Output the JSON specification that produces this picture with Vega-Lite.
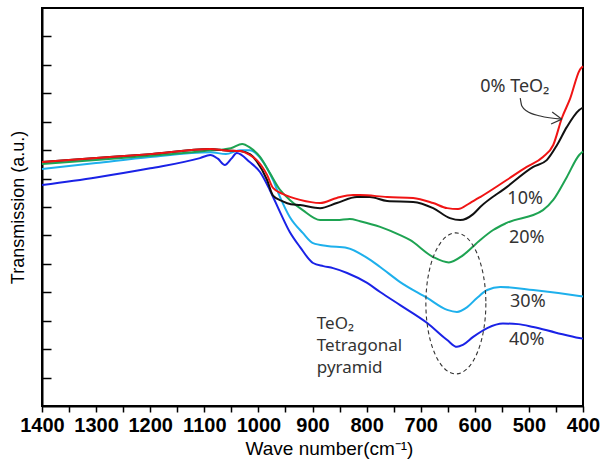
{
  "$schema": "https://vega.github.io/schema/vega-lite/v6.json",
  "width": 541,
  "height": 398,
  "autosize": "none",
  "padding": {"left": 42, "top": 8, "right": 17, "bottom": 62},
  "background": "white",
  "config": {
    "view": {"stroke": "#000", "strokeWidth": 2},
    "axis": {"grid": false, "domainColor": "#000", "domainWidth": 2, "tickColor": "#000"}
  },
  "datasets": {
    "spectra": [
      {"s": "40%", "w": 1400, "y": 7.77}, {"s": "40%", "w": 1300, "y": 8.04}, {"s": "40%", "w": 1200, "y": 8.36},
      {"s": "40%", "w": 1108, "y": 8.72}, {"s": "40%", "w": 1089, "y": 8.83},
      {"s": "40%", "w": 1075, "y": 8.70}, {"s": "40%", "w": 1062, "y": 8.48}, {"s": "40%", "w": 1050, "y": 8.70},
      {"s": "40%", "w": 1040, "y": 8.90}, {"s": "40%", "w": 1016, "y": 8.58}, {"s": "40%", "w": 997, "y": 8.23},
      {"s": "40%", "w": 979, "y": 7.60}, {"s": "40%", "w": 960, "y": 6.82}, {"s": "40%", "w": 942, "y": 6.12},
      {"s": "40%", "w": 923, "y": 5.59}, {"s": "40%", "w": 899, "y": 5.03}, {"s": "40%", "w": 880, "y": 4.92},
      {"s": "40%", "w": 862, "y": 4.85}, {"s": "40%", "w": 836, "y": 4.68}, {"s": "40%", "w": 799, "y": 4.33},
      {"s": "40%", "w": 775, "y": 4.01}, {"s": "40%", "w": 738, "y": 3.55}, {"s": "40%", "w": 688, "y": 2.92},
      {"s": "40%", "w": 651, "y": 2.32}, {"s": "40%", "w": 633, "y": 2.08}, {"s": "40%", "w": 622, "y": 2.15},
      {"s": "40%", "w": 603, "y": 2.43}, {"s": "40%", "w": 577, "y": 2.74}, {"s": "40%", "w": 548, "y": 2.90},
      {"s": "40%", "w": 520, "y": 2.88}, {"s": "40%", "w": 492, "y": 2.78}, {"s": "40%", "w": 450, "y": 2.58},
      {"s": "40%", "w": 407, "y": 2.39}, {"s": "40%", "w": 400, "y": 2.37},

      {"s": "30%", "w": 1400, "y": 8.34}, {"s": "30%", "w": 1300, "y": 8.55}, {"s": "30%", "w": 1200, "y": 8.76},
      {"s": "30%", "w": 1089, "y": 8.93}, {"s": "30%", "w": 1060, "y": 8.86}, {"s": "30%", "w": 1034, "y": 9.0},
      {"s": "30%", "w": 1016, "y": 9.0}, {"s": "30%", "w": 991, "y": 8.58}, {"s": "30%", "w": 973, "y": 7.95},
      {"s": "30%", "w": 960, "y": 7.35}, {"s": "30%", "w": 942, "y": 6.65}, {"s": "30%", "w": 918, "y": 6.09},
      {"s": "30%", "w": 899, "y": 5.73}, {"s": "30%", "w": 873, "y": 5.63}, {"s": "30%", "w": 836, "y": 5.56},
      {"s": "30%", "w": 799, "y": 5.21}, {"s": "30%", "w": 775, "y": 4.89}, {"s": "30%", "w": 738, "y": 4.36},
      {"s": "30%", "w": 688, "y": 3.80}, {"s": "30%", "w": 651, "y": 3.38}, {"s": "30%", "w": 633, "y": 3.31},
      {"s": "30%", "w": 614, "y": 3.48}, {"s": "30%", "w": 596, "y": 3.80}, {"s": "30%", "w": 577, "y": 4.08},
      {"s": "30%", "w": 553, "y": 4.19}, {"s": "30%", "w": 492, "y": 4.08}, {"s": "30%", "w": 407, "y": 3.87},
      {"s": "30%", "w": 400, "y": 3.85},

      {"s": "20%", "w": 1400, "y": 8.51}, {"s": "20%", "w": 1300, "y": 8.65}, {"s": "20%", "w": 1200, "y": 8.80},
      {"s": "20%", "w": 1100, "y": 8.97}, {"s": "20%", "w": 1051, "y": 9.07}, {"s": "20%", "w": 1030, "y": 9.22},
      {"s": "20%", "w": 1016, "y": 9.10}, {"s": "20%", "w": 997, "y": 8.76}, {"s": "20%", "w": 979, "y": 8.20},
      {"s": "20%", "w": 960, "y": 7.60}, {"s": "20%", "w": 942, "y": 7.25}, {"s": "20%", "w": 918, "y": 6.89},
      {"s": "20%", "w": 886, "y": 6.54}, {"s": "20%", "w": 855, "y": 6.54}, {"s": "20%", "w": 831, "y": 6.58},
      {"s": "20%", "w": 812, "y": 6.50}, {"s": "20%", "w": 775, "y": 6.30}, {"s": "20%", "w": 738, "y": 6.01},
      {"s": "20%", "w": 720, "y": 5.84}, {"s": "20%", "w": 677, "y": 5.24}, {"s": "20%", "w": 648, "y": 5.05},
      {"s": "20%", "w": 622, "y": 5.30}, {"s": "20%", "w": 590, "y": 5.84}, {"s": "20%", "w": 566, "y": 6.19},
      {"s": "20%", "w": 541, "y": 6.44}, {"s": "20%", "w": 474, "y": 6.89}, {"s": "20%", "w": 455, "y": 7.25},
      {"s": "20%", "w": 430, "y": 8.05}, {"s": "20%", "w": 407, "y": 8.83}, {"s": "20%", "w": 400, "y": 8.95},

      {"s": "10%", "w": 1400, "y": 8.58}, {"s": "10%", "w": 1300, "y": 8.72}, {"s": "10%", "w": 1200, "y": 8.86},
      {"s": "10%", "w": 1089, "y": 9.04}, {"s": "10%", "w": 1060, "y": 8.99}, {"s": "10%", "w": 1034, "y": 8.97},
      {"s": "10%", "w": 1015, "y": 8.85}, {"s": "10%", "w": 1003, "y": 8.60}, {"s": "10%", "w": 984, "y": 7.95},
      {"s": "10%", "w": 973, "y": 7.40}, {"s": "10%", "w": 955, "y": 7.20}, {"s": "10%", "w": 940, "y": 7.10},
      {"s": "10%", "w": 923, "y": 7.07}, {"s": "10%", "w": 886, "y": 6.96}, {"s": "10%", "w": 855, "y": 7.14},
      {"s": "10%", "w": 818, "y": 7.35}, {"s": "10%", "w": 794, "y": 7.35}, {"s": "10%", "w": 762, "y": 7.21},
      {"s": "10%", "w": 714, "y": 7.18}, {"s": "10%", "w": 677, "y": 6.96}, {"s": "10%", "w": 646, "y": 6.61},
      {"s": "10%", "w": 627, "y": 6.54}, {"s": "10%", "w": 603, "y": 6.75}, {"s": "10%", "w": 590, "y": 7.0},
      {"s": "10%", "w": 541, "y": 7.70}, {"s": "10%", "w": 492, "y": 8.41}, {"s": "10%", "w": 467, "y": 8.65},
      {"s": "10%", "w": 448, "y": 9.18}, {"s": "10%", "w": 430, "y": 9.81}, {"s": "10%", "w": 407, "y": 10.41},
      {"s": "10%", "w": 400, "y": 10.50},

      {"s": "0%", "w": 1400, "y": 8.58}, {"s": "0%", "w": 1300, "y": 8.72}, {"s": "0%", "w": 1200, "y": 8.86},
      {"s": "0%", "w": 1089, "y": 9.04}, {"s": "0%", "w": 1060, "y": 8.99}, {"s": "0%", "w": 1034, "y": 8.97},
      {"s": "0%", "w": 1016, "y": 8.83}, {"s": "0%", "w": 1003, "y": 8.65}, {"s": "0%", "w": 984, "y": 8.13},
      {"s": "0%", "w": 973, "y": 7.67}, {"s": "0%", "w": 955, "y": 7.46}, {"s": "0%", "w": 923, "y": 7.25},
      {"s": "0%", "w": 886, "y": 7.14}, {"s": "0%", "w": 855, "y": 7.32}, {"s": "0%", "w": 825, "y": 7.42},
      {"s": "0%", "w": 812, "y": 7.42}, {"s": "0%", "w": 762, "y": 7.35}, {"s": "0%", "w": 714, "y": 7.32},
      {"s": "0%", "w": 677, "y": 7.14}, {"s": "0%", "w": 651, "y": 6.96}, {"s": "0%", "w": 631, "y": 6.93},
      {"s": "0%", "w": 609, "y": 7.14}, {"s": "0%", "w": 590, "y": 7.35}, {"s": "0%", "w": 541, "y": 7.95},
      {"s": "0%", "w": 504, "y": 8.41}, {"s": "0%", "w": 474, "y": 8.76}, {"s": "0%", "w": 455, "y": 9.18},
      {"s": "0%", "w": 439, "y": 10.13}, {"s": "0%", "w": 424, "y": 10.80}, {"s": "0%", "w": 406, "y": 11.82},
      {"s": "0%", "w": 400, "y": 11.95}
    ],
    "topLabel": [
      {"t": "0% TeO₂", "w": 590, "y": 11.22}
    ],
    "blockLabels": [
      {"t": "TeO₂", "w": 892, "y": 2.87},
      {"t": "Tetragonal", "w": 892, "y": 2.11},
      {"t": "pyramid", "w": 892, "y": 1.35}
    ],
    "centerLabels": [
      {"t": "10%", "w": 507, "y": 7.28},
      {"t": "20%", "w": 504, "y": 5.91},
      {"t": "30%", "w": 502, "y": 3.66},
      {"t": "40%", "w": 504, "y": 2.32}
    ],
    "arrow": [
      {"o": 1, "w": 516, "y": 10.83},
      {"o": 2, "w": 513, "y": 10.55},
      {"o": 3, "w": 504, "y": 10.38},
      {"o": 4, "w": 479, "y": 10.20},
      {"o": 5, "w": 439, "y": 10.09}
    ],
    "head": [
      {"w": 439, "y": 10.09, "w2": 457, "y2": 10.34},
      {"w": 439, "y": 10.09, "w2": 459, "y2": 9.92}
    ],
    "ellipse": [{"w": 635, "y": 3.61}]
  },
  "layer": [
    {
      "data": {"name": "spectra"},
      "mark": {"type": "line", "strokeWidth": 2, "interpolate": "monotone"},
      "encoding": {
        "x": {
          "field": "w", "type": "quantitative",
          "scale": {"domain": [400, 1400], "reverse": true, "nice": false, "zero": false},
          "axis": {
            "values": [400, 450, 500, 550, 600, 650, 700, 750, 800, 850, 900, 950, 1000, 1050, 1100, 1150, 1200, 1250, 1300, 1350, 1400],
            "tickCount": 40,
            "format": "d",
            "labelExpr": "datum.value % 100 === 0 ? datum.label : ''",
            "labelFont": "Liberation Sans", "labelFontWeight": "bold", "labelFontSize": 20, "labelColor": "#000",
            "labelPadding": 3, "labelFlush": false, "labelOverlap": false,
            "tickSize": 6, "tickWidth": 1.5,
            "title": "Wave number(cm⁻¹)",
            "titleFont": "Liberation Sans", "titleFontSize": 19, "titleFontWeight": "normal", "titleColor": "#000",
            "titleX": 287, "titleY": 42, "titleBaseline": "middle"
          }
        },
        "y": {
          "field": "y", "type": "quantitative",
          "scale": {"domain": [0, 14], "nice": false, "zero": false},
          "axis": {
            "values": [1, 2, 3, 4, 5, 6, 7, 8, 9, 10, 11, 12, 13],
            "tickCount": 40,
            "labels": false,
            "tickSize": -9, "tickWidth": 1.5,
            "title": "Transmission (a.u.)",
            "titleFont": "Liberation Sans", "titleFontSize": 18, "titleFontWeight": "normal", "titleColor": "#000",
            "titleX": -24, "titleY": 199, "titleAngle": 270, "titleAlign": "center", "titleBaseline": "middle"
          }
        },
        "color": {
          "field": "s", "type": "nominal",
          "scale": {"domain": ["0%", "10%", "20%", "30%", "40%"], "range": ["#f01414", "#111111", "#1ea352", "#1eb0ec", "#1a22e6"]},
          "legend": null
        }
      }
    },
    {
      "data": {"name": "topLabel"},
      "mark": {"type": "text", "font": "Noto Sans", "fontSize": 18, "color": "#333", "baseline": "middle", "align": "left"},
      "encoding": {
        "x": {"field": "w", "type": "quantitative"},
        "y": {"field": "y", "type": "quantitative"},
        "text": {"field": "t"}
      }
    },
    {
      "data": {"name": "blockLabels"},
      "mark": {"type": "text", "font": "Noto Sans", "fontSize": 17, "color": "#333", "baseline": "middle", "align": "left"},
      "encoding": {
        "x": {"field": "w", "type": "quantitative"},
        "y": {"field": "y", "type": "quantitative"},
        "text": {"field": "t"}
      }
    },
    {
      "data": {"name": "centerLabels"},
      "mark": {"type": "text", "font": "Noto Sans", "fontSize": 18, "color": "#333", "baseline": "middle", "align": "center"},
      "encoding": {
        "x": {"field": "w", "type": "quantitative"},
        "y": {"field": "y", "type": "quantitative"},
        "text": {"field": "t"}
      }
    },
    {
      "data": {"name": "arrow"},
      "mark": {"type": "line", "color": "#333", "strokeWidth": 1.2, "interpolate": "monotone"},
      "encoding": {
        "x": {"field": "w", "type": "quantitative"},
        "y": {"field": "y", "type": "quantitative"},
        "order": {"field": "o"}
      }
    },
    {
      "data": {"name": "head"},
      "mark": {"type": "rule", "color": "#333", "strokeWidth": 1.2},
      "encoding": {
        "x": {"field": "w", "type": "quantitative"},
        "y": {"field": "y", "type": "quantitative"},
        "x2": {"field": "w2"},
        "y2": {"field": "y2"}
      }
    },
    {
      "data": {"name": "ellipse"},
      "mark": {
        "type": "point",
        "shape": "M 0.4255 0 C 0.4255 0.5523 0.235 1 0 1 C -0.235 1 -0.4255 0.5523 -0.4255 0 C -0.4255 -0.5523 -0.235 -1 0 -1 C 0.235 -1 0.4255 -0.5523 0.4255 0 Z",
        "size": 19881, "filled": false, "stroke": "#333", "strokeWidth": 1.1, "strokeDash": [4, 3], "opacity": 1
      },
      "encoding": {
        "x": {"field": "w", "type": "quantitative"},
        "y": {"field": "y", "type": "quantitative"}
      }
    }
  ]
}
